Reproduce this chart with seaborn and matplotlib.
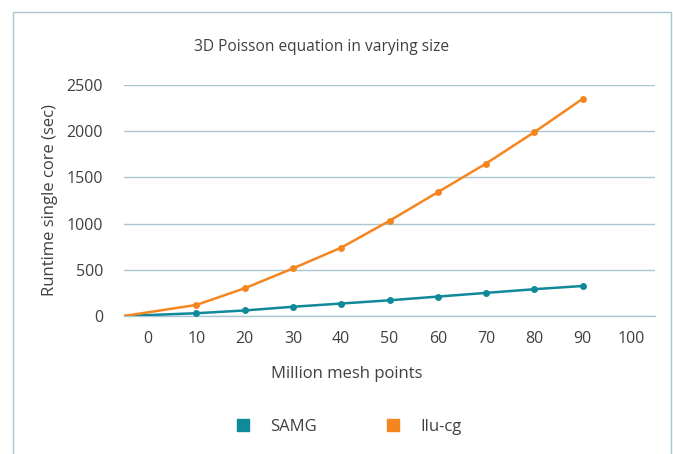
import numpy as np
import pandas as pd
import matplotlib
matplotlib.use("Agg")
import matplotlib.pyplot as plt
from matplotlib.lines import Line2D
from matplotlib.patches import Rectangle
import seaborn as sns

# data
mesh_points = [-5, 10, 20, 30, 40, 50, 60, 70, 80, 90]
samg_runtime = [0, 30, 60, 100, 135, 170, 210, 250, 290, 325]
ilucg_runtime = [0, 120, 300, 515, 740, 1030, 1340, 1650, 1990, 2350]
series_names = ["SAMG", "Ilu-cg"]
x_ticks = [0, 10, 20, 30, 40, 50, 60, 70, 80, 90, 100]
y_ticks = [0, 500, 1000, 1500, 2000, 2500]

COLORS = {"SAMG": "#10899a", "Ilu-cg": "#f5861f"}
GRID = "#a9c6d3"
TEXT = "#404040"

df = pd.DataFrame({
    "mesh": mesh_points * 2,
    "runtime": samg_runtime + ilucg_runtime,
    "solver": [series_names[0]] * len(mesh_points) + [series_names[1]] * len(mesh_points),
})

sns.set_theme(style="white")
plt.rcParams["font.family"] = ["Open Sans", "DejaVu Sans"]

W, H = 673, 454
fig = plt.figure(figsize=(W / 100, H / 100), dpi=100)
ax = fig.add_axes([124 / W, 1 - 316 / H, (655 - 124) / W, (316 - 85) / H])

sns.lineplot(data=df, x="mesh", y="runtime", hue="solver", palette=COLORS,
             hue_order=series_names, marker="o", markersize=5, markeredgewidth=0,
             markevery=list(range(1, len(mesh_points))), linewidth=1.8,
             legend=False, ax=ax, zorder=3)

ax.set_xlim(-5, 105)
ax.set_ylim(0, 2500)
ax.set_xticks(x_ticks)
ax.set_yticks(y_ticks)
ax.tick_params(axis="both", length=0, labelsize=11.5, colors=TEXT)
ax.tick_params(axis="y", pad=15)
ax.tick_params(axis="x", pad=11)
ax.grid(axis="y", color=GRID, linewidth=1)
for side in ["top", "right", "left"]:
    ax.spines[side].set_visible(False)
ax.spines["bottom"].set_color(GRID)
ax.spines["bottom"].set_linewidth(1)
ax.set_xlabel("")
ax.set_ylabel("Runtime single core (sec)", fontsize=12, color=TEXT, labelpad=6)

fig.text(321 / W, 1 - 47 / H, "3D Poisson equation in varying size",
         ha="center", va="center", fontsize=11.2, color=TEXT)
fig.text(347 / W, 1 - 374 / H, "Million mesh points",
         ha="center", va="center", fontsize=12, color=TEXT)

handles = [Line2D([], [], marker="s", linestyle="none", markersize=8,
                  color=COLORS[name]) for name in series_names]
fig.legend(handles, series_names, loc="center", bbox_to_anchor=(344 / W, 1 - 427 / H),
           ncol=2, frameon=False, fontsize=12, handletextpad=0.6,
           columnspacing=3.6, labelcolor=TEXT)

# thin frame around the chart
fig.patches.append(Rectangle((13 / W, -0.05), (671 - 13) / W, 1.05 - 12 / H,
                             transform=fig.transFigure, fill=False,
                             edgecolor=GRID, linewidth=1))

fig.savefig("out.png", dpi=100)
